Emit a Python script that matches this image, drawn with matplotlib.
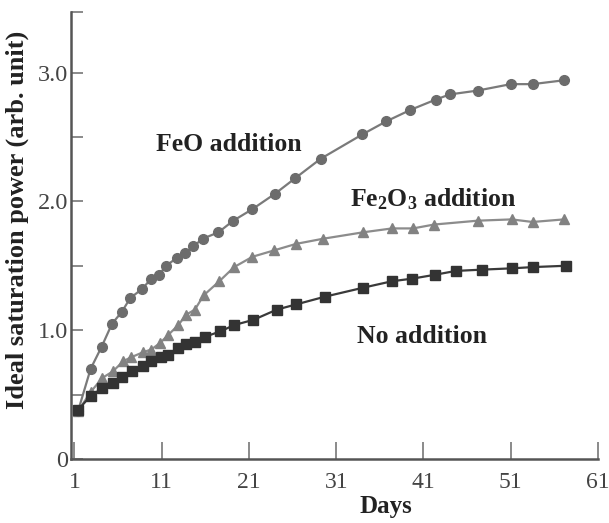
import matplotlib
matplotlib.use("Agg")
import matplotlib.pyplot as plt
from matplotlib.ticker import FixedLocator

plt.rcParams['font.family'] = ['Liberation Serif', 'DejaVu Serif']
plt.rcParams['mathtext.fontset'] = 'custom'
plt.rcParams['mathtext.rm'] = 'Liberation Serif:bold'
plt.rcParams['mathtext.it'] = 'Liberation Serif:italic:bold'
plt.rcParams['mathtext.bf'] = 'Liberation Serif:bold'

# ---- data ----
feo_days = [1.4, 2.85, 4.1, 5.3, 6.4, 7.4, 8.75, 9.8, 10.7, 11.5, 12.7, 13.7, 14.6, 15.7,
            17.5, 19.2, 21.4, 24.0, 26.3, 29.2, 34.0, 36.7, 39.5, 42.4, 44.0, 47.2, 51.0, 53.5, 57.1]
feo_vals = [0.37, 0.70, 0.87, 1.05, 1.14, 1.25, 1.32, 1.40, 1.43, 1.50, 1.56, 1.60, 1.65, 1.71,
            1.76, 1.85, 1.94, 2.06, 2.18, 2.33, 2.52, 2.62, 2.71, 2.79, 2.83, 2.86, 2.91, 2.91, 2.94]

fe2o3_days = [1.4, 2.85, 4.2, 5.4, 6.6, 7.5, 8.9, 9.8, 10.8, 11.7, 12.9, 13.8, 14.8, 15.8,
              17.6, 19.3, 21.4, 23.9, 26.4, 29.5, 34.1, 37.4, 39.8, 42.2, 47.2, 51.1, 53.5, 57.1]
fe2o3_vals = [0.37, 0.52, 0.63, 0.68, 0.76, 0.79, 0.83, 0.85, 0.90, 0.96, 1.04, 1.12, 1.16, 1.27,
              1.38, 1.49, 1.57, 1.62, 1.67, 1.71, 1.76, 1.79, 1.79, 1.82, 1.85, 1.86, 1.84, 1.86]

none_days = [1.4, 2.85, 4.2, 5.4, 6.4, 7.6, 8.9, 9.8, 10.9, 11.7, 12.9, 13.8, 14.8, 16.0,
             17.7, 19.3, 21.5, 24.2, 26.4, 29.7, 34.1, 37.4, 39.7, 42.3, 44.7, 47.7, 51.1, 53.6, 57.3]
none_vals = [0.38, 0.49, 0.55, 0.59, 0.64, 0.68, 0.72, 0.76, 0.79, 0.81, 0.86, 0.89, 0.91, 0.95,
             0.99, 1.04, 1.08, 1.16, 1.20, 1.26, 1.33, 1.38, 1.40, 1.43, 1.46, 1.47, 1.48, 1.49, 1.50]

x_ticks = [1, 11, 21, 31, 41, 51, 61]
y_ticks = [0, 1, 2, 3]
y_tick_labels = ["0", "1.0", "2.0", "3.0"]
y_minor = [0.5, 1.5, 2.5, 3.47]

# ---- figure ----
fig = plt.figure(figsize=(6.09, 5.23), dpi=100)
ax = fig.add_axes([71/609, 1-459/523, (598-71)/609, (459-12)/523])

ax.plot(fe2o3_days, fe2o3_vals, color='#8c8c8c', lw=1.6, marker='^', ms=7.5,
        mfc='#828282', mec='#828282', zorder=3)
ax.plot(feo_days, feo_vals, color='#7a7a7a', lw=1.6, marker='o', ms=7,
        mfc='#6c6c6c', mec='#6c6c6c', zorder=4)
ax.plot(none_days, none_vals, color='#3a3a3a', lw=1.6, marker='s', ms=6.5,
        mfc='#333333', mec='#333333', zorder=5)

ax.set_xlim(0.6, 61)
ax.set_ylim(0, 3.47)

ax.set_xticks(x_ticks)
ax.set_xticklabels([str(t) for t in x_ticks])
ax.set_yticks(y_ticks)
ax.set_yticklabels(y_tick_labels)
ax.yaxis.set_minor_locator(FixedLocator(y_minor))

for s in ['top', 'right']:
    ax.spines[s].set_visible(False)
for s in ['left', 'bottom']:
    ax.spines[s].set_color('#555555')
    ax.spines[s].set_linewidth(1.8)

ax.tick_params(axis='x', which='major', direction='in', length=12, width=1.2,
               color='#777777', labelsize=17, labelcolor='#444444', pad=9)
ax.tick_params(axis='y', which='both', direction='in', length=8.5, width=1.2,
               color='#777777', labelsize=17.5, labelcolor='#444444', pad=2)

ax.text(18.66, 2.394, 'FeO addition', fontsize=18.5, fontweight='bold',
        ha='center', va='baseline', color='#222222')
ax.text(42.1, 1.964, r'Fe$_{2}$O$_{3}$ addition', fontsize=18.5, fontweight='bold',
        ha='center', va='baseline', color='#222222')
ax.text(40.8, 0.903, 'No addition', fontsize=18.5, fontweight='bold',
        ha='center', va='baseline', color='#222222')

fig.text(386/609, 1-513/523, 'Days', fontsize=18, fontweight='bold',
         ha='center', va='baseline', color='#222222')
fig.text(17/609, 1-220/523, 'Ideal saturation power (arb. unit)', fontsize=19,
         fontweight='bold', rotation=90, ha='center', va='center', color='#222222')

fig.savefig('out.png', dpi=100)
